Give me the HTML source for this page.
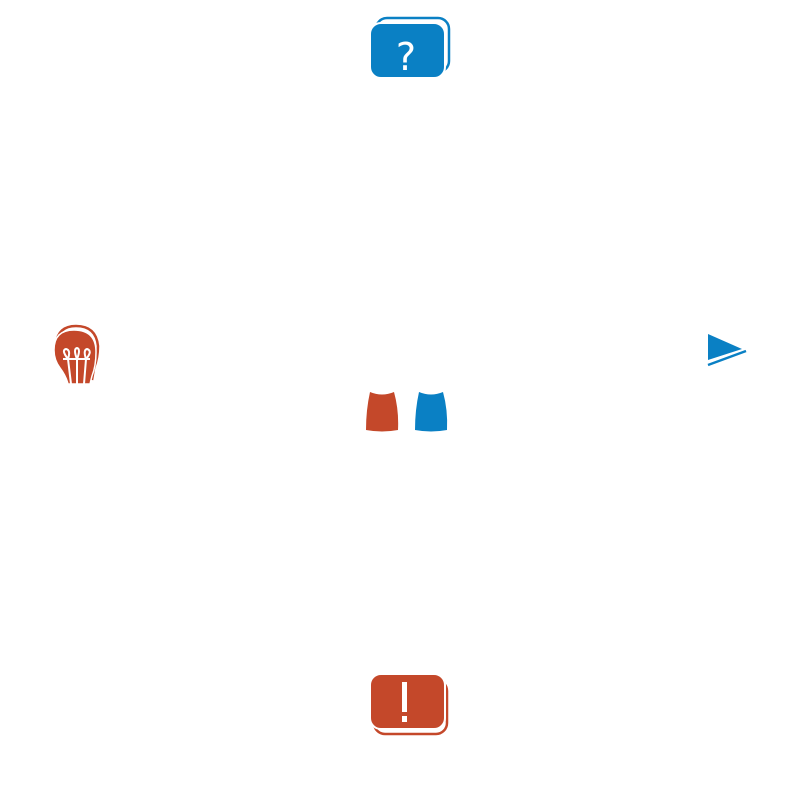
<!DOCTYPE html>
<html><head><style>html,body{margin:0;padding:0;background:#fff}</style></head><body>
<svg width="798" height="800" viewBox="0 0 798 800" xmlns="http://www.w3.org/2000/svg">
<!-- question -->
<rect x="376" y="18" width="73" height="54" rx="11" fill="none" stroke="#0a80c4" stroke-width="2.5"/>
<rect x="370" y="23" width="75" height="55" rx="11" fill="#0a80c4" stroke="#fff" stroke-width="2"/>
<text x="406" y="70" font-family="DejaVu Sans, sans-serif" font-size="38" fill="#fff" text-anchor="middle">?</text>
<!-- bulb -->
<path d="M56 344 Q58 326 76 326 Q96 326 98 346 Q98 358 94 368 L92 380" fill="none" stroke="#c4482a" stroke-width="2.5"/>
<path d="M54 350 Q54 330 74 330 Q96 330 96 352 Q96 366 92 376 L90 384 L68 384 Q66 376 60 368 Q54 360 54 350Z" fill="#c4482a" stroke="#fff" stroke-width="1.5"/>
<g fill="none" stroke="#fff" stroke-width="2">
<path d="M63 359 L90 359"/>
<path d="M68 359 Q61 350 66 349 Q71 350 68 359 L71 384"/>
<path d="M77 359 Q73 349 77 348 Q81 349 77 359 L77 384"/>
<path d="M86 359 Q83 350 87 349 Q93 351 86 359 L84 384"/>
</g>
<!-- pants -->
<path d="M370 392 Q382 397 394 392 Q399 410 398 430 Q382 433 366 430 Q366 410 370 392Z" fill="#c4482a"/>
<path d="M419 392 Q431 397 443 392 Q448 410 447 430 Q431 433 415 430 Q415 410 419 392Z" fill="#0a80c4"/>
<!-- play -->
<path d="M708 334 L742 349 L708 360Z" fill="#0a80c4"/>
<path d="M708 365 L746 351" stroke="#0a80c4" stroke-width="2.5"/>
<!-- exclamation -->
<rect x="374" y="680" width="73" height="54" rx="11" fill="none" stroke="#c4482a" stroke-width="2.5"/>
<rect x="370" y="674" width="75" height="55" rx="11" fill="#c4482a" stroke="#fff" stroke-width="2"/>
<rect x="402" y="682" width="5" height="30" fill="#fff"/>
<rect x="402" y="716" width="5" height="6" fill="#fff"/>
</svg>
</body></html>
